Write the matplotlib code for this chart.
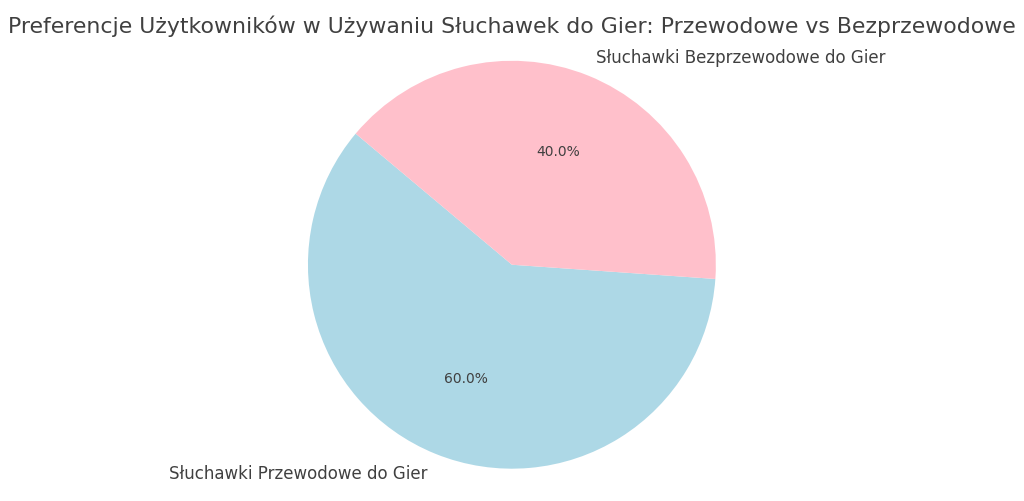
import matplotlib.pyplot as plt

labels = ["Słuchawki Przewodowe do Gier", "Słuchawki Bezprzewodowe do Gier"]
shares = [60, 40]
colors = ["lightblue", "pink"]

fig = plt.figure(figsize=(10.24, 5.02), dpi=100)
ax = fig.add_axes([0.2609, -0.017, 0.478, 0.9753])

wedges, texts, autotexts = ax.pie(
    shares, labels=labels, colors=colors, autopct="%1.1f%%", startangle=140,
    textprops={"color": "#404040"},
)
for t in texts:
    t.set_fontsize(12)
    t.set_clip_on(False)
for t in autotexts:
    t.set_fontsize(10)
ax.set_xlim(-1.2, 1.2)
ax.set_ylim(-1.2, 1.2)
ax.set_aspect("equal")

fig.suptitle("Preferencje Użytkowników w Używaniu Słuchawek do Gier: Przewodowe vs Bezprzewodowe",
             fontsize=15.8, color="#404040", y=0.97)

fig.savefig("out.png", dpi=100)
